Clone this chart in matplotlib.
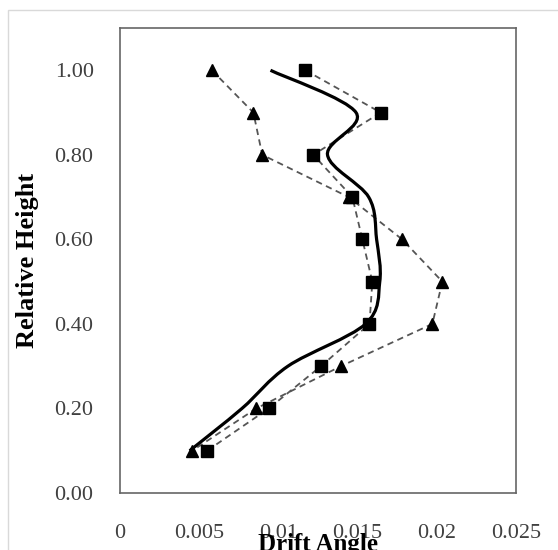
import numpy as np
import matplotlib.pyplot as plt
from matplotlib.path import Path
from matplotlib.patches import PathPatch, Rectangle

plt.rcParams['font.family'] = ['Liberation Serif', 'DejaVu Serif']

height = [1.0, 0.9, 0.8, 0.7, 0.6, 0.5, 0.4, 0.3, 0.2, 0.1]
# square series
sq_drift = [0.0117, 0.01646, 0.0122, 0.01467, 0.0153, 0.01593, 0.01575, 0.01269, 0.00939, 0.0055]
# triangle series
tri_drift = [0.0058, 0.00842, 0.00898, 0.01444, 0.01781, 0.02035, 0.01972, 0.01395, 0.0086, 0.00456]
# solid smoothed series
avg_drift = [0.0095, 0.0149, 0.0131, 0.0157, 0.0162, 0.0164, 0.0155, 0.0106, 0.0077, 0.0044]

xmax = 0.025
ymax = 1.1

fig = plt.figure(figsize=(5.58, 5.5), dpi=100)
ax = fig.add_axes([120/558, 1-493/550, 396/558, 465/550])

## light border around the chart area
fig.patches.append(Rectangle((8/558, -0.1), 1.2, 1-10/550+0.1, transform=fig.transFigure,
                             fill=False, edgecolor='#d9d9d9', linewidth=1.0))

ax.plot(sq_drift, height, linestyle=(0, (3.5, 2.5)), color='#555555', linewidth=1.3, zorder=2)
ax.plot(tri_drift, height, linestyle=(0, (3.5, 2.5)), color='#555555', linewidth=1.3, zorder=2)

## smooth curve (excel style bezier) computed in screen-like units
sx = 396/xmax ; sy = 465/ymax
pts = np.column_stack([np.array(avg_drift)*sx, np.array(height)*sy])
n = len(pts)
verts = [pts[0]] ; codes = [Path.MOVETO]
for i in range(n-1):
    p0 = pts[max(i-1, 0)] ; p1 = pts[i] ; p2 = pts[i+1] ; p3 = pts[min(i+2, n-1)]
    c1 = p1 + (p2-p0)/6.
    c2 = p2 - (p3-p1)/6.
    verts += [c1, c2, p2]
    codes += [Path.CURVE4]*3
verts = np.array(verts)
verts[:, 0] /= sx ; verts[:, 1] /= sy
ax.add_patch(PathPatch(Path(verts, codes), fill=False, edgecolor='black', linewidth=2.3, zorder=3))

ax.plot(sq_drift, height, 's', color='black', markersize=9, linestyle='none', zorder=4)
ax.plot(tri_drift, height, '^', color='black', markersize=8, linestyle='none', zorder=4)

ax.set_xlim(0, xmax)
ax.set_ylim(0, ymax)
ax.set_xticks([0, 0.005, 0.01, 0.015, 0.02, 0.025])
ax.set_xticklabels(['0', '0.005', '0.01', '0.015', '0.02', '0.025'])
ax.set_yticks([0, 0.2, 0.4, 0.6, 0.8, 1.0])
ax.set_yticklabels(['0.00', '0.20', '0.40', '0.60', '0.80', '1.00'])
ax.tick_params(axis='both', length=0, labelsize=16, colors='#404040')
ax.tick_params(axis='x', pad=22)
ax.tick_params(axis='y', pad=19)
for sp in ax.spines.values():
    sp.set_color('#666666')
    sp.set_linewidth(1.2)

fig.text(318/558, 1-545/550, 'Drift Angle', ha='center', va='center', fontsize=18, fontweight='bold')
fig.text(28/558, 1-260/550, 'Relative Height', ha='center', va='center', rotation=90,
         fontsize=19, fontweight='bold')

plt.savefig('out.png', dpi=100)
